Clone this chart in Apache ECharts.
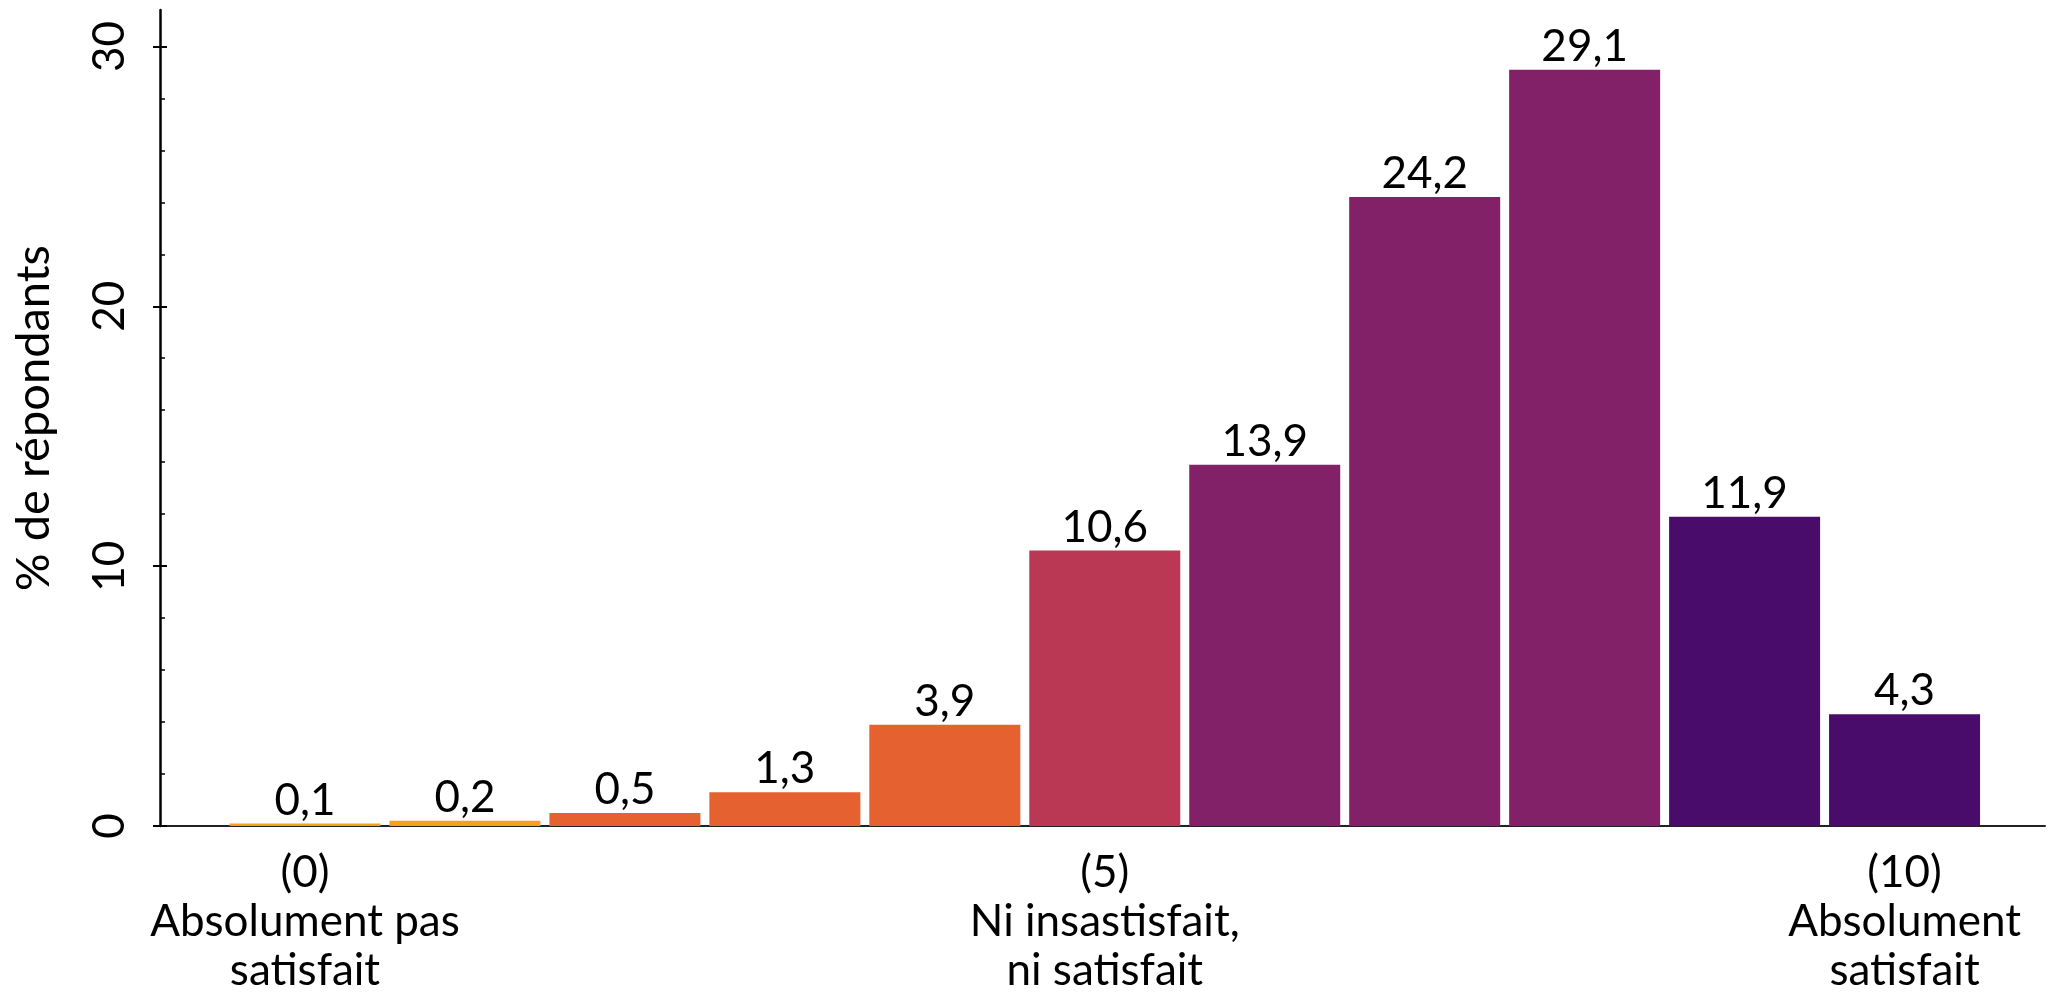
<!DOCTYPE html>
<html>
<head>
<meta charset="utf-8">
<script src="https://cdn.jsdelivr.net/npm/echarts@6/dist/echarts.min.js"></script>
<style>
html,body{margin:0;padding:0;background:#fff;}
#c{width:2048px;height:999px;}
</style>
</head>
<body>
<div id="c"></div>
<script>
// ---- data ----
const categories = [0,1,2,3,4,5,6,7,8,9,10];
const values = [0.1, 0.2, 0.5, 1.3, 3.9, 10.6, 13.9, 24.2, 29.1, 11.9, 4.3];
const xTickLabels = {
  0: "(0)\nAbsolument pas\nsatisfait",
  5: "(5)\nNi insastisfait,\nni satisfait",
  10: "(10)\nAbsolument\nsatisfait"
};
const xLabelPositions = [0, 5, 10];
const yMajorTicks = [0, 10, 20, 30];
const yMinorTicks = [2,4,6,8,12,14,16,18,22,24,26,28];
const yName = "% de répondants";

// ---- axis ranges ----
const X_MIN = -0.9065, X_MAX = 10.878;
const Y_MIN = 0, Y_MAX = 31.4;

// ---- styles ----
const barColors = ["#F7A01C","#F7A01C","#E5612F","#E5612F","#E5612F","#BB3854","#822068","#822068","#822068","#4A0C6A","#4A0C6A"];
const FONT = "Lato";
const FS = 44;

const chart = echarts.init(document.getElementById('c'));
const yBase = {
  type: 'value', min: Y_MIN, max: Y_MAX, position: 'left',
  splitLine: {show: false},
};
chart.setOption({
  animation: false,
  backgroundColor: '#fff',
  grid: {left: 160, top: 10, width: 1885, bottom: 173, containLabel: false, outerBoundsMode: 'none'},
  xAxis: {
    type: 'value', min: X_MIN, max: X_MAX,
    splitLine: {show: false},
    axisTick: {show: false},
    axisLine: {show: true, onZero: false, lineStyle: {color: '#222', width: 2}},
    axisLabel: {
      customValues: xLabelPositions,
      formatter: v => xTickLabels[v] || '',
      fontFamily: FONT, fontSize: FS, color: '#000', lineHeight: 49, margin: 22
    }
  },
  yAxis: [
    Object.assign({}, yBase, {
      name: yName, nameLocation: 'middle', nameRotate: 90, nameGap: 103,
      nameTextStyle: {fontFamily: FONT, fontSize: 47, color: '#000'},
      axisLine: {show: true, onZero: false, lineStyle: {color: '#000', width: 2.5}},
      axisTick: {show: true, inside: false, length: 7, customValues: yMajorTicks, lineStyle: {color: '#000', width: 2}},
      axisLabel: {show: true, customValues: yMajorTicks, rotate: 90, margin: 28,
        fontFamily: FONT, fontSize: FS, color: '#000'}
    }),
    Object.assign({}, yBase, {
      axisLine: {show: false, onZero: false},
      axisTick: {show: true, inside: true, length: 7, customValues: yMajorTicks, lineStyle: {color: '#000', width: 2}},
      axisLabel: {show: false}
    }),
    Object.assign({}, yBase, {
      axisLine: {show: false, onZero: false},
      axisTick: {show: true, inside: true, length: 5, customValues: yMinorTicks, lineStyle: {color: '#000', width: 1.5}},
      axisLabel: {show: false}
    })
  ],
  series: [{
    type: 'bar',
    xAxisIndex: 0, yAxisIndex: 0,
    barWidth: 151,
    data: categories.map((c, i) => ({value: [c, values[i]], itemStyle: {color: barColors[i]}})),
    label: {
      show: true, position: 'top', distance: 1,
      fontFamily: FONT, fontSize: FS, color: '#000',
      formatter: p => String(p.value[1]).replace('.', ',')
    },
    // vertical axis line drawn at the x-axis minimum (the left edge of the plot)
    markLine: {
      silent: true, symbol: 'none', animation: false,
      label: {show: false},
      lineStyle: {color: '#000', width: 2.5, type: 'solid'},
      data: [{xAxis: X_MIN}]
    }
  }]
});
</script>
</body>
</html>
